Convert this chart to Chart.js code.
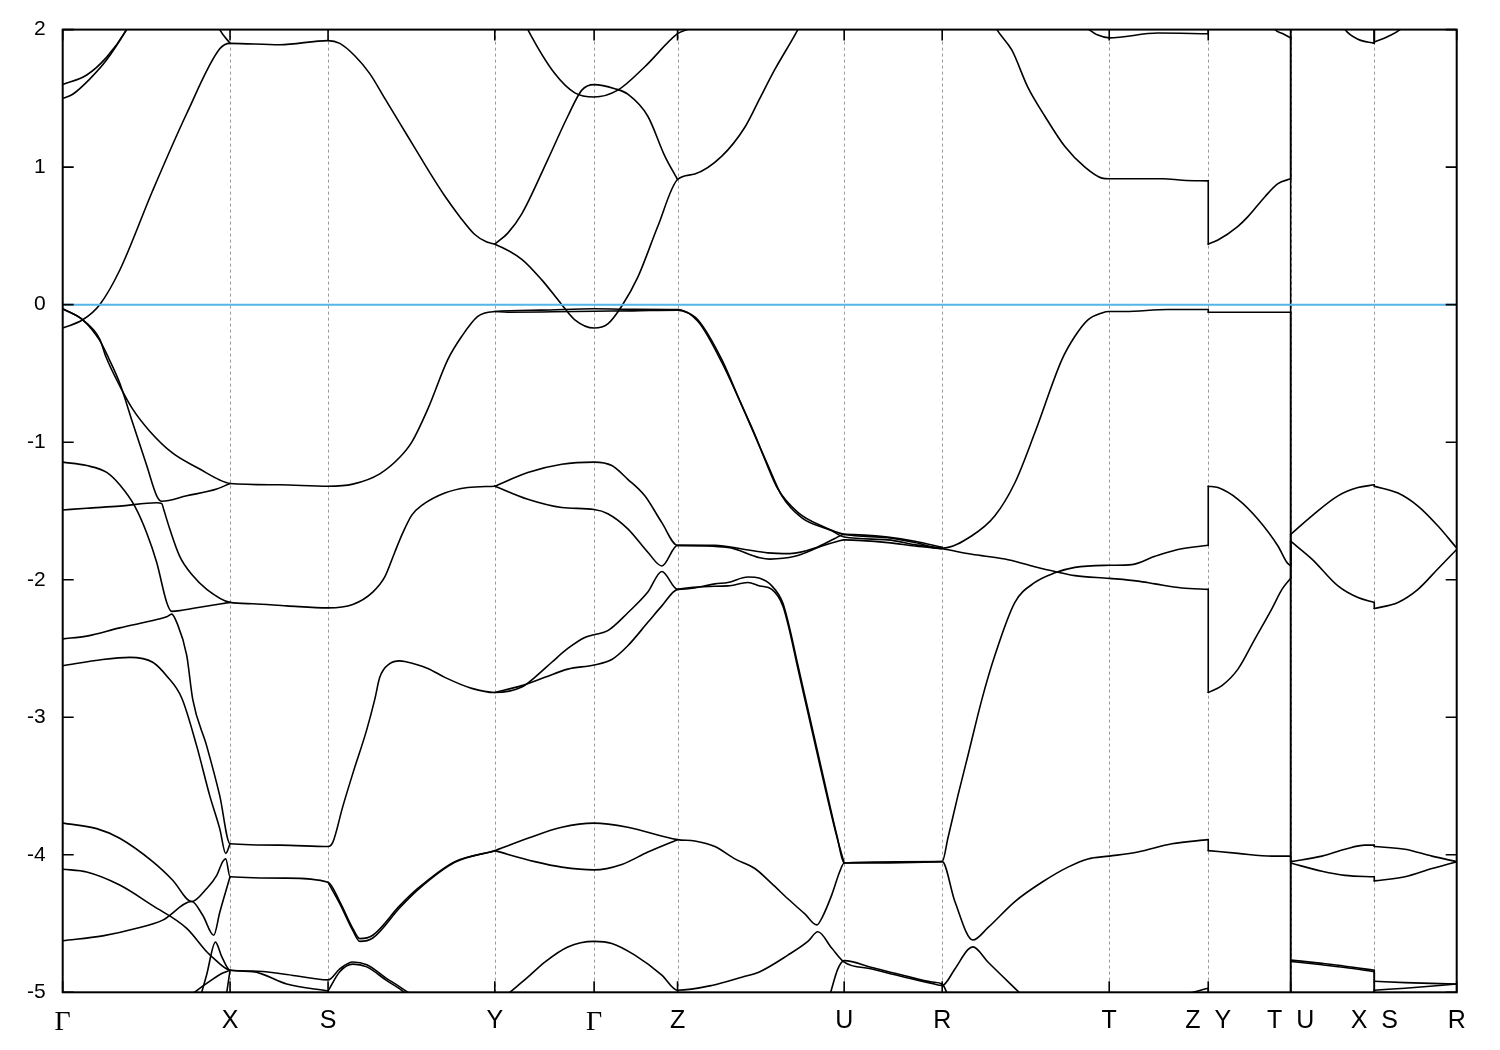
<!DOCTYPE html>
<html><head><meta charset="utf-8">
<script src="https://cdn.jsdelivr.net/npm/chart.js@4.4.1/dist/chart.umd.min.js"></script>
<style>html,body{margin:0;padding:0;background:#fff;}#wrap{width:1500px;height:1050px;}</style>
</head><body><div id="wrap"><canvas id="c" width="1500" height="1050"></canvas></div>
<script>
// high-symmetry points along the k-path (path coordinate)
const kPos = [0, 1.673, 2.653, 4.32, 5.313, 6.147, 7.813, 8.793, 10.463, 11.453, 12.277, 13.113, 13.937];
const kLabels = ['Γ','X','S','Y','Γ','Z','U','R','T','Z  Y','T  U','X  S','R'];
const yTicks = [2, 1, 0, -1, -2, -3, -4, -5];
const fermiLevel = 0;

// bands: [k, E] pairs; equal consecutive k = discontinuity in the path
const cbA1 = [[0,1.60],[0.24,1.67],[0.44,1.80],[0.62,1.98],[0.70,2.1]];
const cbA2 = [[0,1.50],[0.10,1.53],[0.27,1.64],[0.44,1.78],[0.64,2.0],[0.72,2.1]];
const cb1 = [[0,-0.17],[0.20,-0.11],[0.37,0.0],[0.57,0.25],[0.90,0.83],[1.24,1.39],[1.57,1.86],[1.673,1.90],[2.17,1.89],[2.653,1.92],[2.77,1.90],[2.92,1.81],[3.07,1.68],[3.22,1.50],[3.37,1.32],[3.52,1.14],[3.67,0.96],[3.82,0.79],[3.97,0.64],[4.12,0.51],[4.24,0.455],[4.32,0.44],[4.59,0.33],[4.79,0.18],[4.99,0.0],[5.12,-0.11],[5.313,-0.17],[5.45,-0.14],[5.59,-0.01],[5.75,0.20],[5.95,0.57],[6.147,0.91],[6.32,0.95],[6.59,1.08],[6.82,1.29],[6.97,1.50],[7.12,1.71],[7.35,2.0],[7.52,2.25]];
const cbTop = [[1.45,2.2],[1.57,2.0],[1.673,1.90]];
const cb2 = [[4.32,0.44],[4.45,0.52],[4.59,0.66],[4.85,1.055],[5.05,1.37],[5.19,1.56],[5.313,1.60],[5.52,1.57],[5.65,1.53],[5.85,1.37],[6.02,1.08],[6.147,0.91]];
const cb3 = [[4.52,2.2],[4.65,2.0],[4.92,1.68],[5.12,1.54],[5.313,1.51],[5.55,1.56],[5.82,1.73],[6.147,1.97],[6.29,2.02],[6.45,2.15]];
const cb4 = [[9.27,2.1],[9.34,2.0],[9.49,1.85],[9.65,1.58],[9.82,1.37],[10.02,1.15],[10.22,1.0],[10.39,0.92],[10.463,0.915],[11.00,0.915],[11.20,0.905],[11.453,0.90],[11.453,0.44],[11.55,0.47],[11.75,0.57],[11.85,0.64],[12.02,0.785],[12.15,0.88],[12.277,0.915],[12.277,2.5]];
const cb5 = [[10.22,2.02],[10.35,1.96],[10.463,1.94],[10.95,1.975],[11.453,1.97],[11.453,2.5]];
const cb6 = [[12.05,2.1],[12.12,2.0],[12.20,1.97],[12.277,1.94],[12.277,-5.6]];
const cb7 = [[12.75,2.1],[12.82,2.0],[12.95,1.93],[13.113,1.90],[13.113,2.3]];
const cb8 = [[13.113,2.3],[13.113,1.91],[13.25,1.95],[13.37,2.0],[13.47,2.08]];

const vb1 = [[0,-0.03],[0.20,-0.11],[0.37,-0.25],[0.43,-0.375],[0.57,-0.59],[0.70,-0.76],[0.87,-0.92],[1.10,-1.08],[1.37,-1.195],[1.57,-1.275],[1.673,-1.30],[2.17,-1.31],[2.653,-1.32],[2.90,-1.305],[3.17,-1.23],[3.37,-1.11],[3.49,-1.0],[3.65,-0.76],[3.85,-0.40],[3.99,-0.23],[4.15,-0.085],[4.32,-0.05],[4.78,-0.04],[5.313,-0.03],[5.65,-0.033],[6.147,-0.035],[6.19,-0.04],[6.35,-0.11],[6.59,-0.40],[6.77,-0.70],[6.92,-0.945],[7.02,-1.125],[7.15,-1.34],[7.35,-1.51],[7.59,-1.61],[7.813,-1.67],[8.25,-1.695],[8.52,-1.73],[8.793,-1.77],[9.09,-1.68],[9.32,-1.535],[9.52,-1.295],[9.72,-0.93],[9.99,-0.40],[10.12,-0.23],[10.25,-0.11],[10.39,-0.06],[10.463,-0.05],[10.62,-0.05],[11.05,-0.035],[11.453,-0.035],[11.453,-0.055],[12.277,-0.055],[12.277,-5.6]];
const vb2 = [[0,-0.03],[0.20,-0.11],[0.37,-0.26],[0.46,-0.39],[0.57,-0.57],[0.70,-0.86],[0.84,-1.17],[0.94,-1.39],[0.99,-1.43],[1.24,-1.39],[1.54,-1.34],[1.673,-1.30]];
const vb2b = [[4.32,-0.05],[4.45,-0.055],[4.9,-0.052],[5.313,-0.048],[5.7,-0.045],[6.147,-0.04],[6.35,-0.12],[6.59,-0.42],[7.04,-1.15],[7.19,-1.39],[7.39,-1.55],[7.69,-1.645],[7.813,-1.69],[8.25,-1.71],[8.52,-1.745],[8.793,-1.775],[9.09,-1.815],[9.42,-1.85],[9.69,-1.90],[9.92,-1.94],[10.12,-1.97],[10.463,-1.99],[10.75,-2.01],[10.92,-2.03],[11.19,-2.06],[11.453,-2.07],[11.453,-2.82],[11.59,-2.77],[11.75,-2.65],[11.92,-2.43],[12.09,-2.21],[12.19,-2.07],[12.277,-1.99],[12.277,-1.72],[12.49,-1.85],[12.75,-2.045],[12.95,-2.13],[13.113,-2.165],[13.113,-2.21],[13.35,-2.165],[13.55,-2.07],[13.75,-1.92],[13.937,-1.78]];
const vb3 = [[4.32,-1.32],[4.65,-1.22],[4.99,-1.16],[5.313,-1.145],[5.49,-1.17],[5.65,-1.27],[5.82,-1.39],[5.99,-1.585],[6.147,-1.75],[6.52,-1.75],[6.82,-1.78],[7.05,-1.805],[7.27,-1.81],[7.52,-1.77],[7.72,-1.70],[7.813,-1.67],[8.25,-1.69],[8.52,-1.72],[8.793,-1.765]];
const vb4 = [[4.32,-1.32],[4.65,-1.415],[4.99,-1.475],[5.313,-1.49],[5.45,-1.52],[5.65,-1.63],[5.85,-1.80],[5.99,-1.90],[6.147,-1.75],[6.65,-1.765],[6.97,-1.84],[7.07,-1.85],[7.32,-1.83],[7.59,-1.755],[7.75,-1.72],[7.813,-1.71],[8.25,-1.73],[8.52,-1.755],[8.793,-1.775]];
const vb5 = [[0,-1.493],[0.24,-1.48],[0.57,-1.465],[0.94,-1.44],[0.99,-1.445],[1.01,-1.49],[1.07,-1.63],[1.17,-1.83],[1.30,-1.97],[1.44,-2.07],[1.673,-2.165],[1.90,-2.175],[2.24,-2.19],[2.653,-2.205],[2.90,-2.18],[3.10,-2.09],[3.22,-1.98],[3.32,-1.80],[3.40,-1.66],[3.49,-1.53],[3.59,-1.46],[3.82,-1.37],[4.05,-1.33],[4.32,-1.32]];
const vb6 = [[0,-1.145],[0.24,-1.17],[0.44,-1.22],[0.57,-1.31],[0.72,-1.465],[0.84,-1.66],[0.94,-1.875],[1.04,-2.165],[1.09,-2.23],[1.17,-2.225],[1.37,-2.20],[1.673,-2.165]];
const vb7 = [[0,-2.625],[0.40,-2.58],[0.67,-2.565],[0.90,-2.60],[1.04,-2.70],[1.19,-2.86],[1.34,-3.21],[1.47,-3.57],[1.57,-3.81],[1.63,-3.99],[1.673,-3.92]];
const vb8 = [[0,-2.43],[0.24,-2.41],[0.57,-2.35],[0.94,-2.29],[1.04,-2.27],[1.09,-2.25],[1.14,-2.31],[1.24,-2.55],[1.30,-2.87],[1.44,-3.21],[1.57,-3.57],[1.673,-3.92],[2.17,-3.93],[2.653,-3.94],[2.70,-3.91],[2.80,-3.65],[2.90,-3.41],[3.04,-3.09],[3.12,-2.87],[3.17,-2.71],[3.27,-2.61],[3.37,-2.59],[3.42,-2.595],[3.65,-2.645],[3.82,-2.71],[4.09,-2.79],[4.32,-2.82],[4.59,-2.78],[4.72,-2.71],[4.89,-2.60],[5.05,-2.50],[5.22,-2.42],[5.313,-2.40],[5.45,-2.37],[5.65,-2.24],[5.85,-2.09],[5.99,-1.94],[6.147,-2.07],[6.32,-2.06],[6.52,-2.03],[6.65,-2.02],[6.85,-1.98],[6.97,-1.99],[7.09,-2.045],[7.20,-2.17],[7.27,-2.36],[7.35,-2.62],[7.45,-2.94],[7.55,-3.26],[7.65,-3.58],[7.74,-3.86],[7.813,-4.06],[8.793,-4.05],[8.85,-3.88],[8.95,-3.57],[9.05,-3.28],[9.19,-2.87],[9.32,-2.55],[9.52,-2.165],[9.72,-2.02],[9.92,-1.95],[10.12,-1.91],[10.463,-1.895],[10.69,-1.89],[10.92,-1.83],[11.15,-1.78],[11.453,-1.75],[11.453,-1.32],[11.55,-1.33],[11.75,-1.415],[11.95,-1.56],[12.15,-1.755],[12.24,-1.875],[12.277,-1.90],[12.277,-1.67],[12.49,-1.535],[12.75,-1.39],[12.95,-1.33],[13.113,-1.31],[13.113,-1.32],[13.35,-1.37],[13.55,-1.465],[13.75,-1.61],[13.937,-1.77]];
const vb10 = [[4.32,-2.82],[4.59,-2.77],[4.82,-2.71],[5.05,-2.65],[5.313,-2.62],[5.49,-2.58],[5.65,-2.48],[5.85,-2.31],[5.99,-2.19],[6.147,-2.07],[6.65,-2.045],[6.85,-2.02],[6.97,-2.045],[7.09,-2.07],[7.20,-2.19],[7.27,-2.38],[7.35,-2.645],[7.45,-2.965],[7.55,-3.285],[7.65,-3.60],[7.74,-3.87],[7.813,-4.06]];

const l1 = [[0,-3.77],[0.34,-3.81],[0.57,-3.88],[0.90,-4.05],[1.10,-4.185],[1.29,-4.34],[1.44,-4.245],[1.54,-4.15],[1.60,-4.05],[1.63,-4.03],[1.673,-4.16],[2.24,-4.17],[2.653,-4.20],[2.77,-4.34],[2.90,-4.535],[2.97,-4.61],[3.10,-4.585],[3.37,-4.37],[3.55,-4.245],[3.92,-4.05],[4.32,-3.97],[4.65,-3.88],[4.99,-3.80],[5.313,-3.77],[5.65,-3.80],[6.147,-3.89],[6.32,-3.90],[6.52,-3.94],[6.72,-4.03],[6.92,-4.10],[7.09,-4.21],[7.25,-4.32],[7.42,-4.43],[7.54,-4.51],[7.59,-4.46],[7.69,-4.29],[7.77,-4.12],[7.813,-4.06],[8.793,-4.05],[8.92,-4.34],[9.10,-4.62],[9.25,-4.53],[9.52,-4.34],[9.79,-4.20],[10.05,-4.09],[10.25,-4.03],[10.463,-4.01],[10.75,-3.98],[11.09,-3.92],[11.453,-3.89],[11.453,-3.97],[11.75,-3.99],[12.09,-4.01],[12.277,-4.01],[12.277,-4.05],[12.59,-4.01],[12.82,-3.96],[13.02,-3.93],[13.113,-3.93],[13.113,-3.94],[13.42,-3.96],[13.69,-4.01],[13.937,-4.05]];
const l1b = [[2.653,-4.20],[2.77,-4.355],[2.90,-4.55],[2.97,-4.63],[3.10,-4.605],[3.37,-4.385],[3.55,-4.255],[3.92,-4.055],[4.32,-3.97]];
const l2 = [[0,-4.105],[0.24,-4.125],[0.57,-4.22],[0.90,-4.37],[1.24,-4.535],[1.44,-4.705],[1.49,-4.74],[1.673,-4.84],[1.90,-4.85],[2.24,-4.94],[2.653,-4.99]];
const l2b = [[4.32,-3.97],[4.72,-4.05],[4.99,-4.09],[5.313,-4.11],[5.59,-4.07],[5.85,-3.98],[6.147,-3.89]];
const l3 = [[0,-4.625],[0.40,-4.59],[0.74,-4.535],[1.00,-4.475],[1.29,-4.34],[1.40,-4.44],[1.51,-4.585],[1.57,-4.42],[1.673,-4.16]];
const l4 = [[1.37,-5.05],[1.44,-4.87],[1.527,-4.635],[1.59,-4.74],[1.673,-4.84],[1.90,-4.845],[2.24,-4.87],[2.653,-4.91],[2.77,-4.83],[2.90,-4.78],[3.04,-4.80],[3.24,-4.90],[3.37,-4.96],[3.49,-5.02]];
const l4b = [[2.653,-4.99],[2.77,-4.85],[2.90,-4.795],[3.04,-4.815],[3.24,-4.915],[3.37,-4.975],[3.45,-5.02]];
const l5 = [[1.28,-5.02],[1.45,-4.93],[1.60,-4.86],[1.673,-4.84]];
const l6 = [[1.63,-5.05],[1.673,-4.84]];
const l7 = [[12.277,-4.06],[12.59,-4.12],[12.82,-4.15],[13.113,-4.16],[13.113,-4.19],[13.42,-4.16],[13.69,-4.10],[13.937,-4.05]];
const l8 = [[4.47,-5.0],[4.65,-4.89],[4.82,-4.78],[5.05,-4.67],[5.313,-4.63],[5.49,-4.645],[5.72,-4.73],[5.99,-4.875],[6.147,-4.985],[6.49,-4.95],[6.79,-4.89],[6.97,-4.85],[7.25,-4.73],[7.45,-4.63],[7.55,-4.56],[7.69,-4.68],[7.813,-4.78],[8.09,-4.83],[8.42,-4.89],[8.69,-4.935],[8.793,-4.95],[8.92,-4.83],[9.05,-4.69],[9.10,-4.67],[9.25,-4.78],[9.59,-5.02]];
const l9 = [[7.67,-5.02],[7.75,-4.83],[7.813,-4.77],[8.09,-4.82],[8.42,-4.88],[8.69,-4.925],[8.793,-4.94],[8.85,-5.02]];
const tzBottom = [[11.19,-5.02],[11.35,-4.99],[11.453,-4.97],[11.453,-5.6]];
const uxBottom1 = [[12.277,-4.765],[12.59,-4.79],[12.82,-4.81],[13.113,-4.84],[13.113,-4.92],[13.42,-4.93],[13.937,-4.94]];
const uxBottom2 = [[12.277,-4.775],[12.59,-4.80],[12.82,-4.82],[13.113,-4.85],[13.113,-5.6]];
const srBottom = [[13.113,-5.6],[13.113,-4.985],[13.42,-4.97],[13.937,-4.94]];

const bands = [cbA1, cbA2, cb1, cbTop, cb2, cb3, cb4, cb5, cb6, cb7, cb8,
  vb1, vb2, vb2b, vb3, vb4, vb5, vb6, vb7, vb8, vb10,
  l1, l1b, l2, l2b, l3, l4, l4b, l5, l6, l7, l8, l9, tzBottom, uxBottom1, uxBottom2, srBottom];

function splitBand(pts) {
  const pieces = []; let cur = [pts[0]];
  for (let i = 1; i < pts.length; i++) {
    const p = pts[i], q = pts[i - 1];
    if (p[0] === q[0]) {
      if (cur.length > 1) pieces.push({pts: cur, jump: false});
      pieces.push({pts: [q, p], jump: true});
      cur = [p];
    } else cur.push(p);
  }
  if (cur.length > 1) pieces.push({pts: cur, jump: false});
  return pieces;
}

const kMax = kPos[kPos.length - 1];
const datasets = [{
  data: [{x: 0, y: fermiLevel}, {x: kMax, y: fermiLevel}],
  borderColor: '#56b4e9', borderWidth: 2, pointRadius: 0, tension: 0
}];
bands.forEach(b => splitBand(b).forEach(pc => {
  datasets.push({
    data: pc.pts.map(p => ({x: p[0], y: p[1]})),
    borderColor: '#000', borderWidth: 1.6, pointRadius: 0,
    tension: 0,
    cubicInterpolationMode: pc.jump ? 'default' : 'monotone'
  });
}));

const framePlugin = {
  id: 'frame',
  beforeDatasetsDraw(chart) {
    const {ctx, chartArea: a, scales: {x}} = chart;
    ctx.save();
    ctx.strokeStyle = '#9a9a9a'; ctx.lineWidth = 1; ctx.setLineDash([3, 3]);
    kPos.slice(1, -1).forEach(k => {
      const px = Math.round(x.getPixelForValue(k)) + 0.5;
      ctx.beginPath(); ctx.moveTo(px, a.top); ctx.lineTo(px, a.bottom); ctx.stroke();
    });
    ctx.restore();
  },
  afterDraw(chart) {
    const {ctx, chartArea: a, scales: {x, y}} = chart;
    ctx.save();
    ctx.strokeStyle = '#000'; ctx.lineWidth = 2; ctx.setLineDash([]);
    ctx.strokeRect(a.left, a.top, a.right - a.left, a.bottom - a.top);
    ctx.lineWidth = 1.6;
    const tl = 11;
    kPos.forEach(k => {
      const px = x.getPixelForValue(k);
      ctx.beginPath();
      ctx.moveTo(px, a.bottom); ctx.lineTo(px, a.bottom - tl);
      ctx.moveTo(px, a.top); ctx.lineTo(px, a.top + tl);
      ctx.stroke();
    });
    yTicks.forEach(v => {
      const py = y.getPixelForValue(v);
      ctx.beginPath();
      ctx.moveTo(a.left, py); ctx.lineTo(a.left + tl, py);
      ctx.moveTo(a.right, py); ctx.lineTo(a.right - tl, py);
      ctx.stroke();
    });
    ctx.restore();
  }
};

new Chart(document.getElementById('c'), {
  type: 'line',
  data: {datasets},
  plugins: [framePlugin],
  options: {
    responsive: false, animation: false, devicePixelRatio: 1,
    layout: {padding: {left: 0, right: 43.3, top: 27.7, bottom: 0}},
    plugins: {legend: {display: false}, tooltip: {enabled: false}},
    elements: {point: {radius: 0}, line: {borderJoinStyle: 'round', borderCapStyle: 'round'}},
    scales: {
      x: {
        type: 'linear', min: 0, max: kMax,
        grid: {display: false, drawTicks: false}, border: {display: false},
        afterBuildTicks: ax => { ax.ticks = kPos.map(v => ({value: v})); },
        afterFit: ax => { ax.height = 57.7; },
        ticks: {
          autoSkip: false, maxRotation: 0, minRotation: 0, padding: 14, color: '#000',
          callback: (v, i) => kLabels[i],
          font: c => (c.index === 0 || c.index === 4)
            ? {family: 'Liberation Serif', size: 28}
            : {family: 'Liberation Sans', size: 25}
        }
      },
      y: {
        type: 'linear', min: -5, max: 2,
        grid: {display: false, drawTicks: false}, border: {display: false},
        afterBuildTicks: ax => { ax.ticks = yTicks.map(v => ({value: v})); },
        afterFit: ax => { ax.width = 62.7; },
        ticks: {padding: 17, color: '#000', callback: v => String(v),
          font: {family: 'Liberation Sans', size: 21}}
      }
    }
  }
});
</script></body></html>
